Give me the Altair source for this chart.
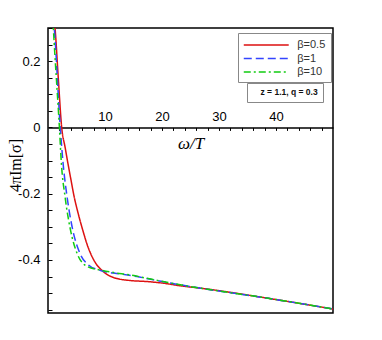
import altair as alt
import pandas as pd

# ---- data ----
red_x = [1.05, 1.23, 1.8, 2.4, 3.0, 3.5, 4.05, 4.6, 5.3, 6.1, 7.0, 8.2, 9.7, 11.5, 14.4, 17.3, 20.2, 23.2, 26.7, 38.4, 50.0]
red_y = [0.33, 0.30, 0.15, 0.0, -0.06, -0.109, -0.16, -0.21, -0.26, -0.31, -0.36, -0.405, -0.435, -0.453, -0.462, -0.465, -0.47, -0.478, -0.485, -0.515, -0.548]

blue_x = [0.95, 1.1, 2.15, 2.65, 3.35, 4.35, 5.6, 7.1, 8.9, 12.6, 15.6, 18.5, 23.2, 26.7, 38.4, 50.0]
blue_y = [0.33, 0.30, 0.0, -0.109, -0.21, -0.31, -0.38, -0.415, -0.43, -0.442, -0.45, -0.46, -0.475, -0.485, -0.515, -0.548]

green_x = [0.85, 0.94, 2.0, 2.35, 3.0, 3.95, 5.1, 6.9, 9.1, 11.5, 14.4, 17.3, 20.2, 23.2, 26.7, 38.4, 50.0]
green_y = [0.33, 0.30, 0.0, -0.109, -0.21, -0.31, -0.38, -0.42, -0.43, -0.438, -0.445, -0.455, -0.465, -0.475, -0.485, -0.515, -0.548]

series = ["β=0.5", "β=1", "β=10"]
colors = ["#dd1111", "#3344ff", "#11cc11"]
dashes = [[1, 0], [8, 4], [7, 3, 2, 3]]
note = "z = 1.1, q = 0.3"

x_ticks = list(range(2, 50, 2))
y_ticks = [round(-0.55 + 0.05 * i, 2) for i in range(18)]

XMIN, XMAX = 0, 50
YMIN, YMAX = -0.56, 0.3
W, H = 285, 285

rows = []
for name, xs, ys in zip(series, [red_x, blue_x, green_x], [red_y, blue_y, green_y]):
    for a, b in zip(xs, ys):
        rows.append({"x": a, "y": b, "beta": name, "note": note})
df = pd.DataFrame(rows)

zero_offset = -(H * (0 - YMIN) / (YMAX - YMIN))

xscale = alt.Scale(domain=[XMIN, XMAX], nice=False, zero=False)
yscale = alt.Scale(domain=[YMIN, YMAX], nice=False, zero=False)

x_axis = alt.Axis(
    orient="bottom", offset=zero_offset, values=x_ticks,
    labelExpr="datum.value % 10 === 0 ? datum.label : ''",
    labelBaseline="alphabetic", labelPadding=-10, labelFlush=False, labelOverlap=False,
    labelFont="Liberation Sans", labelFontSize=13, labelColor="#000",
    tickSize=3, tickColor="#000", tickWidth=1,
    domain=True, domainColor="#000", domainWidth=1.5, grid=False,
    title="ω/T", titleFont="Liberation Serif", titleFontSize=17, titleFontWeight="normal",
    titleFontStyle="italic", titleY=21, titleBaseline="alphabetic", titleColor="#000",
)

y_axis = alt.Axis(
    orient="left", offset=-4, values=y_ticks,
    labelExpr="abs(round(datum.value*20)) % 4 == 0 ? (datum.value < -0.001 ? '-' : '') + format(abs(datum.value), '.1~f') : ''",
    labelPadding=8, labelFont="Liberation Sans", labelFontSize=13, labelColor="#000",
    labelOverlap=False, labelFlush=False,
    tickSize=4, tickColor="#000", tickWidth=1, domain=False, grid=False,
    title="4πIm[σ]", titleFont="Liberation Serif", titleFontSize=16, titleFontWeight="normal",
    titleX=-37, titleY=137, titleAngle=-90, titleBaseline="middle", titleAlign="center",
    titleColor="#000",
)

beta_legend = alt.Legend(
    title=None, orient="none", legendX=190, legendY=5,
    symbolType="M-3.6,0H3.6", symbolSize=156, symbolStrokeWidth=1.5,
    symbolFillColor="transparent", symbolOffset=16.25,
    labelFont="Liberation Sans", labelFontSize=11, labelColor="#333",
    labelOffset=24, padding=5, rowPadding=1.5,
    strokeColor="#888", fillColor="white")

note_legend = alt.Legend(
    title=None, orient="none", legendX=199, legendY=55,
    symbolOpacity=0, symbolSize=0, symbolStrokeWidth=0,
    labelFont="Liberation Sans", labelFontSize=8.5, labelFontWeight="bold",
    labelColor="#111", labelOffset=0, padding=5,
    strokeColor="#888", fillColor="white")

chart = alt.Chart(df).mark_line(clip=True, strokeWidth=1.5, interpolate="monotone").encode(
    x=alt.X("x:Q", scale=xscale, axis=x_axis),
    y=alt.Y("y:Q", scale=yscale, axis=y_axis),
    color=alt.Color("beta:N", scale=alt.Scale(domain=series, range=colors), legend=beta_legend),
    strokeDash=alt.StrokeDash("beta:N", scale=alt.Scale(domain=series, range=dashes), legend=beta_legend),
    opacity=alt.Opacity("note:O", scale=alt.Scale(range=[1, 1]), legend=note_legend),
    detail="beta:N",
).properties(
    width=W, height=H,
    autosize=alt.AutoSizeParams(type="none"),
    padding={"left": 40, "top": 20, "right": 40, "bottom": 20},
).configure_view(stroke="#000", strokeWidth=1.5)

chart.save("out.html", embed_options={"renderer": "svg", "actions": False})
